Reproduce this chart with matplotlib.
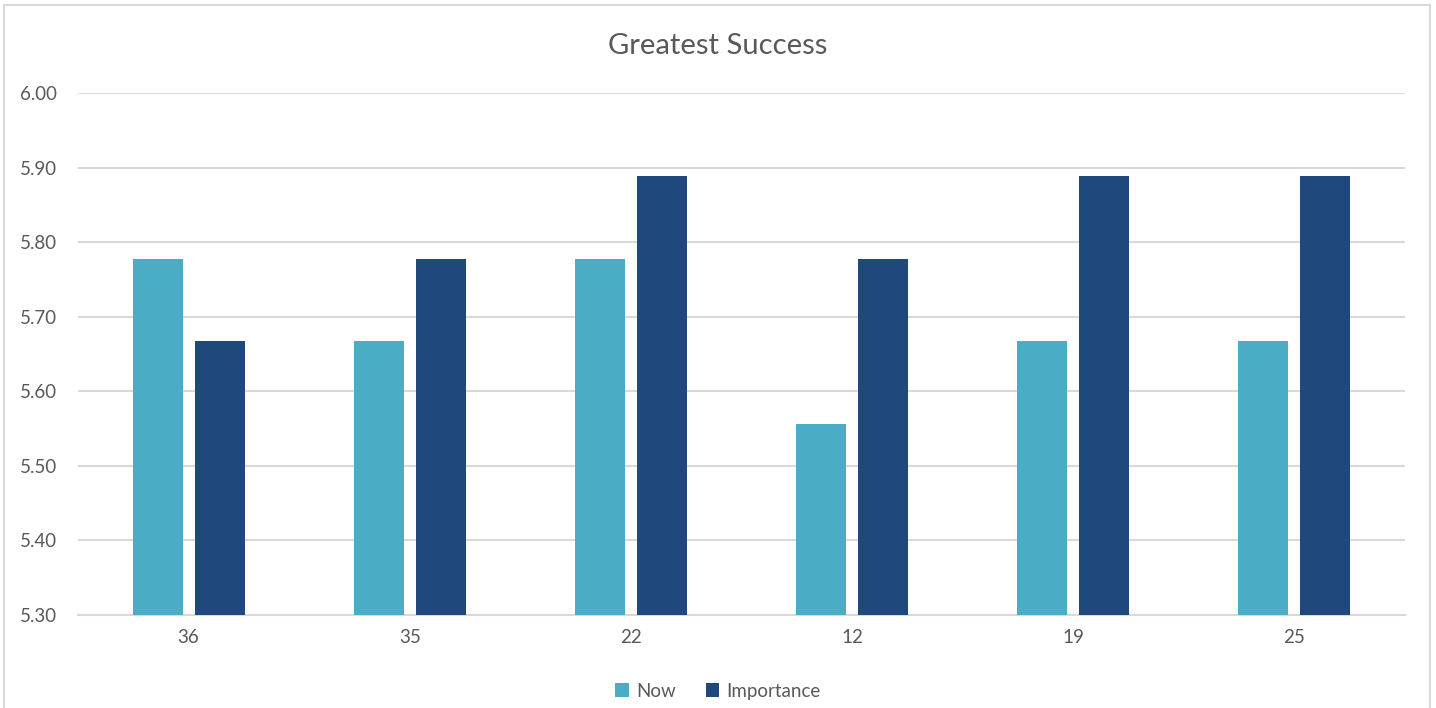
import matplotlib
matplotlib.use("Agg")
import matplotlib.pyplot as plt
import numpy as np
from matplotlib.patches import Rectangle

categories = ["36", "35", "22", "12", "19", "25"]
now = [5.778, 5.667, 5.778, 5.556, 5.667, 5.667]
importance = [5.667, 5.778, 5.889, 5.778, 5.889, 5.889]

TEXT = "#595959"
GRID = "#D9D9D9"

plt.rcParams['font.family'] = ['Lato', 'DejaVu Sans']

fig = plt.figure(figsize=(14.36, 7.08), dpi=100)
ax = fig.add_axes([0.0543, 0.1314, 0.9241, 0.7372])

x = np.arange(len(categories))
w = 0.226
ax.bar(x - 0.14, now, w, color="#4BACC6", label="Now", zorder=3)
ax.bar(x + 0.14, importance, w, color="#1F497D", label="Importance", zorder=3)

ax.set_xlim(-0.5, len(categories) - 0.5)
ax.set_ylim(5.30, 6.00)
ax.set_yticks(np.arange(5.30, 6.001, 0.10))
ax.set_yticklabels([f"{v:.2f}" for v in np.arange(5.30, 6.001, 0.10)])
ax.set_xticks(x)
ax.set_xticklabels(categories)
ax.tick_params(axis='both', length=0, labelsize=13.5, colors=TEXT)
ax.tick_params(axis='y', pad=15)
ax.tick_params(axis='x', pad=10)

ax.grid(axis='y', color=GRID, linewidth=1.5, zorder=0)
for s in ["top", "right", "left"]:
    ax.spines[s].set_visible(False)
ax.spines["bottom"].set_color(GRID)
ax.spines["bottom"].set_linewidth(1.5)

fig.text(0.5, 0.935, "Greatest Success", ha="center", va="center",
         fontsize=21, color=TEXT)

fig.legend(loc="center", bbox_to_anchor=(0.5, 0.024), ncol=2, frameon=False,
           fontsize=13.5, handlelength=0.7, handleheight=0.7, handletextpad=0.4,
           columnspacing=1.6, labelcolor=TEXT)

# outer chart border
fig.patches.append(Rectangle((4 / 1436, -0.01), 1426 / 1436, 0.9929 + 0.01,
                             transform=fig.transFigure, fill=False,
                             edgecolor=GRID, linewidth=1.5))

fig.savefig("out.png", dpi=100, facecolor="white")
